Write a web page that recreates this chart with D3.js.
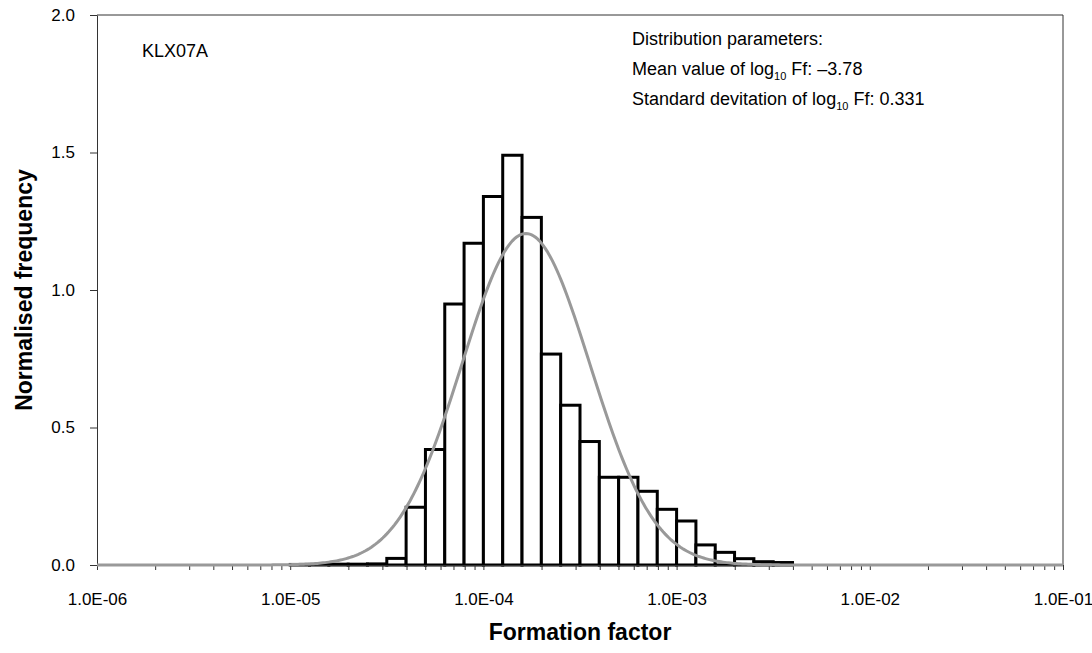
<!DOCTYPE html>
<html>
<head>
<meta charset="utf-8">
<script src="https://cdn.jsdelivr.net/npm/d3@7"></script>
<style>
  html, body { margin: 0; padding: 0; background: #fff; }
  svg { display: block; font-family: "Liberation Sans", Arial, sans-serif; }
</style>
</head>
<body>
<svg id="chart" width="1092" height="653"></svg>
<script>
// Histogram bins: lower edge in log10(Ff), bin width 0.1
const binStarts = [-5.0, -4.9, -4.8, -4.7, -4.6, -4.5, -4.4, -4.3, -4.2, -4.1,
                   -4.0, -3.9, -3.8, -3.7, -3.6, -3.5, -3.4, -3.3, -3.2, -3.1,
                   -3.0, -2.9, -2.8, -2.7, -2.6, -2.5];
const binFreq   = [0.002, 0.002, 0.003, 0.003, 0.004, 0.024, 0.21, 0.42, 0.949, 1.17,
                   1.34, 1.49, 1.264, 0.767, 0.581, 0.449, 0.319, 0.319, 0.268, 0.2025,
                   0.16, 0.073, 0.046, 0.023, 0.012, 0.009];
const binWidth = 0.1;

// Fitted normal distribution of log10 Ff
const fitMean = [-3.78];
const fitStd = [0.331];

const xTickValues = [1e-6, 1e-5, 1e-4, 1e-3, 1e-2, 1e-1];
const xTickLabels = ["1.0E-06", "1.0E-05", "1.0E-04", "1.0E-03", "1.0E-02", "1.0E-01"];
const yTickValues = [0, 0.5, 1.0, 1.5, 2.0];
const yTickLabels = ["0.0", "0.5", "1.0", "1.5", "2.0"];

const margin = { left: 97, right: 29, top: 15, bottom: 88 };
const W = 1092, H = 653;
const svg = d3.select("#chart");

const x = d3.scaleLog().domain([1e-6, 1e-1]).range([margin.left, W - margin.right]);
const y = d3.scaleLinear().domain([0, 2]).range([H - margin.bottom, margin.top]);

// Plot frame (top and right edges)
svg.append("path")
  .attr("d", `M${x(1e-6)},${y(2)}H${x(1e-1)}V${y(0)}`)
  .attr("fill", "none").attr("stroke", "#333").attr("stroke-width", 1);

// Histogram bars
svg.append("g").selectAll("rect")
  .data(binStarts.map((s, i) => ({ s, v: binFreq[i] })))
  .join("rect")
  .attr("x", d => x(Math.pow(10, d.s)))
  .attr("width", d => x(Math.pow(10, d.s + binWidth)) - x(Math.pow(10, d.s)))
  .attr("y", d => y(d.v))
  .attr("height", d => y(0) - y(d.v))
  .attr("fill", "#fff")
  .attr("stroke", "#000")
  .attr("stroke-width", 3);

// X axis with log minor ticks
const allTicks = [];
for (let e = -6; e < -1; e++) for (let m = 1; m <= 9; m++) allTicks.push(m * Math.pow(10, e));
allTicks.push(1e-1);
const xAxis = d3.axisBottom(x)
  .tickValues(allTicks)
  .tickSize(5)
  .tickSizeOuter(0)
  .tickFormat(d => {
    const i = xTickValues.findIndex(v => Math.abs(v - d) / v < 1e-9);
    return i >= 0 ? xTickLabels[i] : "";
  });
const gx = svg.append("g").attr("transform", `translate(0,${y(0)})`).call(xAxis);
gx.select(".domain").attr("stroke", "#333");
gx.selectAll(".tick line").attr("stroke", "#333");
gx.selectAll(".tick text")
  .attr("font-size", 17).attr("fill", "#000")
  .attr("font-family", "Liberation Sans, Arial, sans-serif")
  .attr("dy", null).attr("y", 40).attr("dominant-baseline", "alphabetic");

// Y axis
const yAxis = d3.axisLeft(y)
  .tickValues(yTickValues)
  .tickSize(7)
  .tickSizeOuter(0)
  .tickPadding(15)
  .tickFormat((d, i) => yTickLabels[i]);
const gy = svg.append("g").attr("transform", `translate(${margin.left},0)`).call(yAxis);
gy.select(".domain").attr("stroke", "#333");
gy.selectAll(".tick line").attr("stroke", "#333");
gy.selectAll(".tick text").attr("font-size", 17).attr("fill", "#000")
  .attr("font-family", "Liberation Sans, Arial, sans-serif");

// Fitted normal curve (density of log10 Ff)
const mu = fitMean[0], sd = fitStd[0];
const curvePts = d3.range(-6, -1 + 1e-9, 0.01).map(l => ({
  l, v: Math.exp(-0.5 * Math.pow((l - mu) / sd, 2)) / (sd * Math.sqrt(2 * Math.PI))
}));
svg.append("path")
  .datum(curvePts)
  .attr("fill", "none")
  .attr("stroke", "#999")
  .attr("stroke-width", 3)
  .attr("d", d3.line().x(d => x(Math.pow(10, d.l))).y(d => y(d.v)));

// Axis titles
svg.append("text")
  .attr("x", (x(1e-6) + x(1e-1)) / 2).attr("y", 640)
  .attr("text-anchor", "middle")
  .attr("font-size", 23).attr("font-weight", "bold")
  .text("Formation factor");
svg.append("text")
  .attr("transform", `translate(32,${(y(0) + y(2)) / 2}) rotate(-90)`)
  .attr("text-anchor", "middle")
  .attr("font-size", 23).attr("font-weight", "bold")
  .text("Normalised frequency");

// Annotations
svg.append("text").attr("x", 142).attr("y", 57).attr("font-size", 18).text("KLX07A");

const ann = svg.append("g").attr("font-size", 18);
ann.append("text").attr("x", 632).attr("y", 45).text("Distribution parameters:");
const t1 = ann.append("text").attr("x", 632).attr("y", 75);
t1.append("tspan").text("Mean value of log");
t1.append("tspan").attr("font-size", 11).attr("dy", 5).text("10");
t1.append("tspan").attr("dy", -5).text(" Ff: \u20133.78");
const t2 = ann.append("text").attr("x", 632).attr("y", 105);
t2.append("tspan").text("Standard devitation of log");
t2.append("tspan").attr("font-size", 11).attr("dy", 5).text("10");
t2.append("tspan").attr("dy", -5).text(" Ff: 0.331");
</script>
</body>
</html>
